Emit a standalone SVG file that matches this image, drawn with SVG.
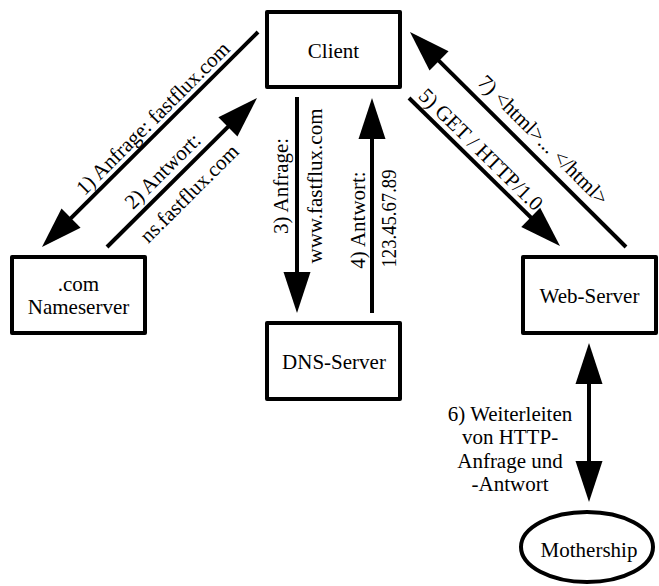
<svg xmlns="http://www.w3.org/2000/svg" width="659" height="586" viewBox="0 0 659 586">
<style>
.box{fill:#fff;stroke:#000;stroke-width:4;stroke-linejoin:round}
.t{font-family:"Liberation Serif","Times New Roman",serif;font-size:21px;fill:#000;text-anchor:middle}
.c{stroke:#000;stroke-width:4;fill:none;marker-end:url(#ah)}
</style>
<defs>
<marker id="ah" markerUnits="userSpaceOnUse" markerWidth="41" markerHeight="27" refX="21" refY="13.5" orient="auto-start-reverse" overflow="visible">
<path d="M0,0 L41,13.5 L0,27 Z" fill="#000"/>
</marker>
</defs>
<rect width="659" height="586" fill="#fff"/>
<g id="connectors">
<line class="c" x1="258" y1="32" x2="56.17" y2="232.89"/>
<line class="c" x1="107" y1="247" x2="242.81" y2="112.1"/>
<line class="c" x1="297" y1="97" x2="297" y2="293"/>
<line class="c" x1="372" y1="313" x2="372" y2="118"/>
<line class="c" x1="409" y1="98" x2="545.72" y2="232"/>
<line class="c" x1="626" y1="247" x2="424.17" y2="46.11"/>
<line class="c" x1="589" y1="363" x2="589" y2="482" marker-start="url(#ah)"/>
<text class="t" transform="translate(157.7,123.2) rotate(-44.9)">1) Anfrage: fastflux.com</text>
<text class="t" transform="translate(167.5,175.9) rotate(-44.8)">2) Antwort:</text>
<text class="t" transform="translate(194.2,198.4) rotate(-44.8)">ns.fastflux.com</text>
<text class="t" transform="translate(288,186) rotate(-90)">3) Anfrage:</text>
<text class="t" transform="translate(322,186) rotate(-90)">www.fastflux.com</text>
<text class="t" transform="translate(365,220) rotate(-90)">4) Antwort:</text>
<text class="t" transform="translate(396,218.5) rotate(-90)" textLength="98" lengthAdjust="spacingAndGlyphs">123.45.67.89</text>
<text class="t" transform="translate(476,154.5) rotate(44.4)">5) GET / HTTP/1.0</text>
<text class="t" transform="translate(538.3,145) rotate(44.9)">7) &lt;html&gt;... &lt;/html&gt;</text>
<text class="t" x="510" y="420.5">6) Weiterleiten</text>
<text class="t" x="510" y="444">von HTTP-</text>
<text class="t" x="510" y="467.5">Anfrage und</text>
<text class="t" x="510" y="491">-Antwort</text>
</g>
<g id="client">
<rect class="box" x="267" y="12" width="133" height="75"/>
<text class="t" x="333.5" y="57.5">Client</text>
</g>
<g id="com-nameserver">
<rect class="box" x="12" y="257" width="133" height="76"/>
<text class="t" x="78.5" y="291">.com</text>
<text class="t" x="78.5" y="314">Nameserver</text>
</g>
<g id="dns-server">
<rect class="box" x="267" y="323" width="133" height="76"/>
<text class="t" x="334" y="369">DNS-Server</text>
</g>
<g id="web-server">
<rect class="box" x="523" y="257" width="133" height="76"/>
<text class="t" x="589.5" y="303">Web-Server</text>
</g>
<g id="mothership">
<ellipse class="box" cx="587" cy="547" rx="66" ry="35"/>
<text class="t" x="589" y="557">Mothership</text>
</g>
</svg>
